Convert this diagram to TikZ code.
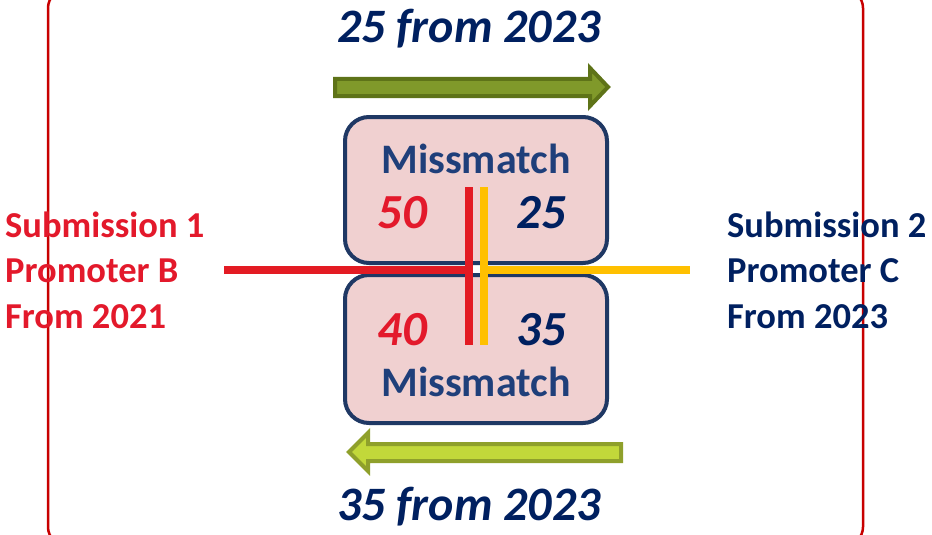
\documentclass[tikz,border=0pt]{standalone}
\usepackage{fontspec}
\setmainfont{Carlito}
\definecolor{navy}{HTML}{002060}
\definecolor{mmblue}{HTML}{1F3F7A}
\definecolor{boxline}{HTML}{1F3864}
\definecolor{boxfill}{HTML}{F0D0D0}
\definecolor{subred}{HTML}{E3192B}
\definecolor{framered}{HTML}{C80000}
\definecolor{lnred}{HTML}{E31B23}
\definecolor{lnyel}{HTML}{FFC000}
\definecolor{olivefill}{HTML}{80992A}
\definecolor{oliveline}{HTML}{5E7318}
\definecolor{limefill}{HTML}{C2D83A}
\definecolor{limeline}{HTML}{8FA02B}
\begin{document}
\begin{tikzpicture}[x=1pt,y=-1pt,
  frame/.style={draw=framered,line width=2.5pt,rounded corners=18pt},
  mbox/.style={draw=boxline,fill=boxfill,line width=4pt,rounded corners=24pt},
  title/.style={font=\fontsize{48}{54}\selectfont\bfseries\itshape,text=navy,inner sep=0pt,anchor=base},
  mm/.style={font=\fontsize{42}{48}\selectfont\bfseries,text=mmblue,inner sep=0pt,anchor=base},
  numr/.style={font=\fontsize{49}{54}\selectfont\bfseries\itshape,text=subred,inner sep=0pt,anchor=base},
  numb/.style={font=\fontsize{49}{54}\selectfont\bfseries\itshape,text=navy,inner sep=0pt,anchor=base},
  side/.style={font=\fontsize{36.5}{42}\selectfont\bfseries,inner sep=0pt,anchor=base west},
  redln/.style={draw=lnred,line width=8pt},
  yelln/.style={draw=lnyel,line width=8pt}]
\useasboundingbox (0,0) rectangle (932,535);
\fill[white] (0,0) rectangle (932,535);
% frame
\draw[frame] (48,-10) rectangle (863,545);
% arrows
\filldraw[fill=olivefill,draw=oliveline,line width=4pt,line join=miter]
  (335,79) -- (590,79) -- (590,68) -- (608,87) -- (590,106) -- (590,96) -- (335,96) -- cycle;
\filldraw[fill=limefill,draw=limeline,line width=4pt,line join=miter]
  (349,452) -- (368,433) -- (368,444) -- (621,444) -- (621,461) -- (368,461) -- (368,471) -- cycle;
% boxes
\draw[mbox] (345,117) rectangle (607,263);
\draw[mbox] (345,275) rectangle (607,423);
\node (topbox) at (476,190) {};
\node (botbox) at (476,349) {};
% lines
\coordinate (rl) at (224,270);
\coordinate (rc) at (469,270);
\coordinate (rt) at (469,187);
\coordinate (rb) at (469,345);
\coordinate (yc) at (484,270);
\coordinate (yr) at (690,270);
\coordinate (yt) at (484,187);
\coordinate (yb) at (484,345);
\draw[yelln] (yc) -- (yr);
\draw[yelln] (yt) -- (yb);
\draw[redln] (rl) -- (rc);
\draw[redln] (rt) -- (rb);
% texts
\node[title] (t1) at (469,43) {25 from 2023};
\node[title] (t2) at (469,520) {35 from 2023};
\node[mm] (m1) at (476,173) {Missmatch};
\node[mm] (m2) at (476,396) {Missmatch};
\node[numr] (n50) at (402,228) {50};
\node[numb] (n25) at (541,228) {25};
\node[numr] (n40) at (402,345) {40};
\node[numb] (n35) at (541,345) {35};
\node[side,text=subred] (s1a) at (5,237) {Submission 1};
\node[side,text=subred] (s1b) at (5,282) {Promoter B};
\node[side,text=subred] (s1c) at (5,328) {From 2021};
\node[side,text=navy] (s2a) at (727,237) {Submission 2};
\node[side,text=navy] (s2b) at (727,282) {Promoter C};
\node[side,text=navy] (s2c) at (727,328) {From 2023};
\end{tikzpicture}
\end{document}
